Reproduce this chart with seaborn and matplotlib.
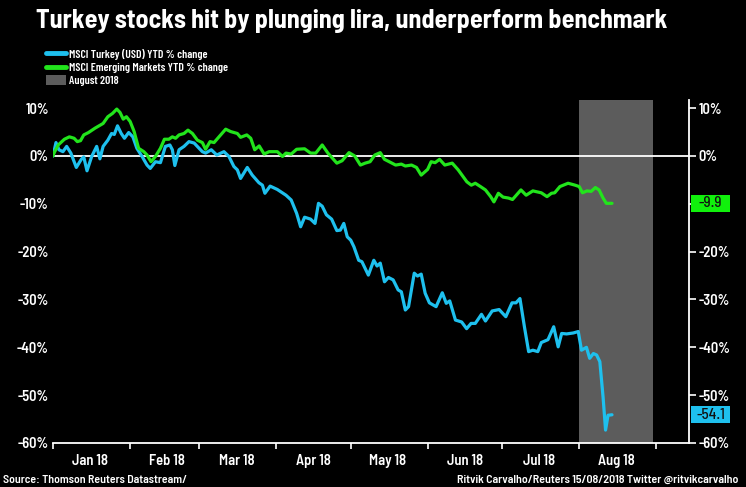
import pandas as pd
import numpy as np
import matplotlib.pyplot as plt
import matplotlib.dates as mdates
from matplotlib.lines import Line2D
from matplotlib.patches import Patch, Rectangle
from matplotlib.ticker import FixedLocator, FuncFormatter
from matplotlib.transforms import blended_transform_factory
import seaborn as sns

# days since 1 Jan 2018 and YTD % change
turkey_days = [0, 1.2, 2.4, 4.0, 5.5, 7.2, 9.4, 11.4, 12.4, 13.7, 15.6, 17.6, 18.9, 20.2, 22.1, 23.6,
               24.7, 26.0, 27.5, 28.8, 30.5, 32.2, 33.8, 35.9, 37.9, 39.2, 41.3, 43.3, 45.3, 47.1,
               48.1, 49.1, 50.8, 52.8, 54.8, 56.9, 58.9, 60.2, 61.5, 63.8, 66.0, 68.9, 70.9, 72.9,
               74.3, 75.6, 78.3, 80.3, 83.0, 84.4, 85.4, 87.5, 90.4, 93.9, 96.0, 98.2, 99.8, 101.4,
               103.8, 105.6, 107.0, 108.5, 110.2, 112.3, 114.4, 115.8, 117.2, 118.6, 120.0, 121.3,
               123.2, 124.5, 127.1, 129.3, 130.6, 131.9, 133.6, 135.2, 137.1, 139.1, 140.4, 142.0,
               143.3, 145.6, 146.9, 148.4, 150.0, 151.7, 154.4, 156.9, 158.5, 159.9, 162.2, 164.7,
               166.7, 168.5, 170.2, 172.7, 174.3, 177.0, 179.8, 182.5, 185.0, 186.6, 188.2, 190.0,
               191.7, 193.4, 195.4, 196.8, 199.5, 201.8, 203.6, 205.0, 207.0, 209.7, 211.7, 213.0,
               215.0, 216.3, 217.8, 219.1, 220.4, 221.7, 222.7, 223.7, 225.3]
turkey_vals = [0.0, 2.8, 1.3, 0.9, 2.0, 0.6, -2.4, -0.7, -0.2, -3.1, -0.1, 2.0, -0.6, 2.0, 3.3, 4.7,
               4.5, 6.3, 4.7, 3.7, 4.9, 4.0, 1.6, -0.1, -1.9, -2.6, -1.2, -1.4, 2.0, 2.3,
               1.3, -2.0, 1.3, 2.0, 3.0, 2.7, 1.6, 0.9, 0.6, 1.3, 0.2, 0.9, -0.1, -2.2,
               -2.9, -4.7, -2.4, -4.0, -5.6, -6.1, -7.8, -6.3, -7.0, -8.2, -9.2, -12.0, -14.8, -12.8,
               -13.2, -14.1, -9.9, -10.5, -12.3, -13.2, -15.6, -15.5, -14.1, -16.9, -17.6, -19.0,
               -21.8, -22.1, -24.9, -21.8, -23.0, -22.4, -26.3, -25.4, -25.9, -28.0, -28.4, -32.2,
               -31.5, -24.5, -25.1, -24.7, -28.7, -30.7, -31.5, -28.6, -30.8, -30.3, -34.3, -34.7,
               -36.1, -35.0, -35.0, -33.1, -34.5, -32.4, -32.1, -33.6, -30.7, -30.7, -29.8, -35.7,
               -40.9, -40.6, -40.9, -39.0, -38.4, -35.7, -39.9, -37.1, -37.2, -37.0, -36.7, -40.6,
               -40.0, -42.3, -41.3, -41.6, -43.0, -50.4, -57.3, -54.2, -54.1]

em_days = [0, 0.4, 2.1, 4.6, 6.6, 8.5, 9.8, 11.1, 12.4, 14.3, 16.9, 20.2, 22.1, 24.0, 25.7, 27.0,
           28.3, 29.6, 31.1, 32.7, 34.5, 36.6, 37.9, 39.5, 41.3, 43.3, 44.9, 46.7, 48.1, 49.4,
           50.8, 52.8, 54.4, 56.2, 58.2, 60.2, 61.5, 63.3, 64.9, 66.9, 69.6, 71.6, 74.3, 75.6,
           78.1, 79.7, 81.3, 83.1, 85.1, 87.1, 90.4, 92.5, 93.9, 96.0, 98.2, 101.4, 103.8, 105.9,
           108.5, 110.8, 114.4, 116.5, 119.3, 121.6, 123.9, 125.8, 127.8, 129.7, 131.9, 133.6,
           135.5, 138.1, 140.4, 142.0, 144.5, 146.5, 148.4, 151.0, 152.4, 154.0, 155.8, 157.9,
           160.9, 163.3, 166.8, 168.6, 170.2, 172.3, 174.3, 176.4, 177.7, 179.5, 181.4, 183.6,
           185.2, 188.6, 190.7, 193.4, 196.8, 199.1, 200.9, 202.2, 204.3, 207.6, 210.4, 212.1,
           213.4, 215.2, 216.9, 218.6, 220.1, 221.7, 223.0, 225.3]
em_vals = [0.0, 0.6, 2.3, 3.5, 4.0, 3.7, 3.0, 3.2, 4.4, 4.9, 5.8, 6.8, 8.2, 8.9, 9.8, 9.1,
           7.7, 8.2, 7.2, 5.1, 1.6, 0.9, 0.2, -1.2, -0.1, 1.6, 3.5, 3.5, 4.0, 3.7,
           4.4, 4.7, 5.4, 4.7, 3.3, 2.8, 1.4, 3.0, 2.8, 4.0, 5.6, 5.1, 4.7, 3.9,
           4.4, 3.7, 1.3, 2.1, 0.4, 0.9, 0.9, -0.1, 0.6, 0.4, 1.4, 1.5, 0.6, 0.6,
           2.3, 0.6, -1.5, -1.0, 0.7, 0.0, -1.9, -1.5, -1.2, 0.2, 0.7, -0.7,
           -1.2, -1.9, -1.7, -2.1, -1.9, -2.4, -4.0, -2.8, -1.2, -1.4, -0.7, -1.9,
           -1.5, -2.9, -5.4, -6.1, -5.7, -6.4, -7.1, -8.5, -9.6, -7.8, -8.6, -8.8,
           -9.1, -7.1, -8.2, -7.3, -7.7, -8.5, -7.8, -7.7, -6.4, -5.7, -6.1, -6.4,
           -7.7, -7.3, -7.4, -6.6, -7.1, -8.8, -9.9, -9.9]

series_names = ["MSCI Turkey (USD) YTD % change", "MSCI Emerging Markets YTD % change"]
end_labels = ["-54.1", "-9.9"]
shade_label = "August 2018"
month_labels = ["Jan 18", "Feb 18", "Mar 18", "Apr 18", "May 18", "Jun 18", "Jul 18", "Aug 18"]
y_ticks = [10, 0, -10, -20, -30, -40, -50, -60]

blue = "#1ec0ee"
green = "#22e41c"
box_green = "#11f00c"
shade = "#5c5c5c"

start = pd.Timestamp("2018-01-01")
df = pd.concat([
    pd.DataFrame({"date": start + pd.to_timedelta(turkey_days, unit="D"),
                  "value": turkey_vals, "series": series_names[0]}),
    pd.DataFrame({"date": start + pd.to_timedelta(em_days, unit="D"),
                  "value": em_vals, "series": series_names[1]}),
])

sns.set_theme(style="dark", rc={"axes.facecolor": "black", "figure.facecolor": "black"})
plt.rcParams["font.family"] = ["Barlow Semi Condensed", "Barlow Condensed", "DejaVu Sans"]
plt.rcParams["font.weight"] = 600

fig = plt.figure(figsize=(7.46, 4.87), dpi=100)
ax = fig.add_axes([53 / 746, 1 - 443 / 487, (689 - 53) / 746, (443 - 100) / 487])

ax.axvspan(pd.Timestamp("2018-08-01"), pd.Timestamp("2018-08-31"), color=shade, lw=0, zorder=0)
ax.axhline(0, color="white", lw=1.3, zorder=1)

sns.lineplot(data=df, x="date", y="value", hue="series", palette=[blue, green],
             estimator=None, legend=False, lw=2.3, ax=ax, zorder=3)

ax.set_xlim(start, pd.Timestamp("2018-09-14 08:00"))
ax.set_ylim(-60, 11.7)
ax.set_xlabel("")
ax.set_ylabel("")

for side in ["top", "left", "right"]:
    ax.spines[side].set_visible(False)
ax.spines["bottom"].set_color("white")
ax.spines["bottom"].set_linewidth(1.3)

month_starts = pd.date_range("2018-01-01", "2018-09-01", freq="MS")
mid_months = [d + pd.Timedelta(days=15) for d in month_starts[:-1]]
ax.xaxis.set_major_locator(FixedLocator(mdates.date2num(month_starts)))
ax.xaxis.set_major_formatter(FuncFormatter(lambda v, p: ""))
ax.set_xticks(mdates.date2num(mid_months), labels=month_labels, minor=True)
ax.tick_params(axis="x", which="major", bottom=True, length=4, width=1.2, color="white", direction="out")
ax.tick_params(axis="x", which="minor", bottom=True, length=0, pad=8, labelsize=10.5, labelcolor="white")

ax.set_yticks(y_ticks)
ax.yaxis.set_major_formatter(FuncFormatter(lambda v, p: f"{v:.0f}%"))
ax.tick_params(axis="y", left=False, length=0, pad=3, labelsize=10.5, labelcolor="white")
ax.grid(False)

ax2 = ax.twinx()
ax2.set_ylim(ax.get_ylim())
ax2.set_yticks(y_ticks)
# the -10% label on the right is covered by the -9.9 box in the original
ax2.yaxis.set_major_formatter(FuncFormatter(lambda v, p: "" if round(v) == -10 else f"{v:.0f}%"))
ax2.tick_params(axis="y", right=True, length=5, width=1.2, color="white", direction="out",
                pad=2, labelsize=10.5, labelcolor="white")
for side in ["top", "left", "bottom"]:
    ax2.spines[side].set_visible(False)
ax2.spines["right"].set_color("white")
ax2.spines["right"].set_linewidth(1.3)
ax2.grid(False)

# value boxes on the right axis
box_tr = blended_transform_factory(fig.transFigure, ax2.transData)
for val, lab, col in [(turkey_vals[-1], end_labels[0], blue), (em_vals[-1], end_labels[1], box_green)]:
    ax2.add_patch(Rectangle((691 / 746, val - 1.75), 39 / 746, 3.5, transform=box_tr,
                            facecolor=col, edgecolor="none", clip_on=False, zorder=5))
    ax2.text(710.5 / 746, val, lab, transform=box_tr, ha="center", va="center", fontsize=11,
             color="#111111", fontweight=500, zorder=6, clip_on=False)

fig.text(36 / 746, 1 - 21 / 487, "Turkey stocks hit by plunging lira, underperform benchmark",
         color="white", fontsize=18.8, fontweight=700, ha="left", va="center")

handles = [Line2D([], [], color=blue, lw=3.5), Line2D([], [], color=green, lw=3.5),
           Patch(facecolor=shade, edgecolor="none")]
leg = fig.legend(handles, series_names + [shade_label], loc="upper left",
                 bbox_to_anchor=(40 / 746, 1 - 43 / 487), frameon=False,
                 prop={"family": ["Barlow Condensed", "DejaVu Sans"], "weight": 600, "size": 8.4},
                 handlelength=1.7, handleheight=0.9, labelspacing=0.2, handletextpad=0.3,
                 borderpad=0)
for t in leg.get_texts():
    t.set_color("white")

fig.text(3 / 746, 1 - 480 / 487, "Source: Thomson Reuters Datastream/", color="white",
         fontsize=8.5, fontweight=600, ha="left", va="center")
fig.text(738 / 746, 1 - 480 / 487, "Ritvik Carvalho/Reuters 15/08/2018 Twitter @ritvikcarvalho",
         color="white", fontsize=8.6, fontweight=600, ha="right", va="center")

fig.savefig("out.png", dpi=100, facecolor="black")
